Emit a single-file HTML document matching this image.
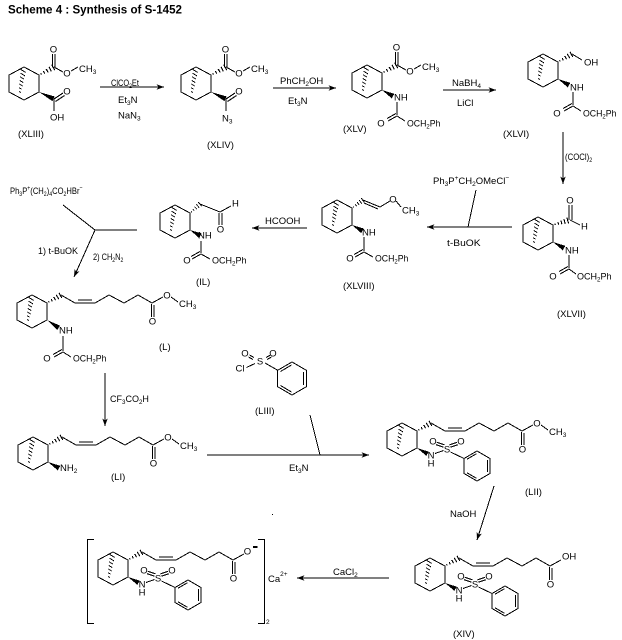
<!DOCTYPE html>
<html><head><meta charset="utf-8"><title>Scheme 4: Synthesis of S-1452</title>
<style>
html,body{margin:0;padding:0;background:#fff;width:622px;height:640px;overflow:hidden}
svg{display:block}
text{font-family:"Liberation Sans",Arial,sans-serif;font-size:9.5px;fill:#000;stroke:none}
.s{font-size:6.5px}
.m{text-anchor:middle}
.k{stroke:#000;stroke-width:1;fill:none;shape-rendering:crispEdges}
</style></head><body>
<svg width="622" height="640" viewBox="0 0 622 640" xmlns="http://www.w3.org/2000/svg">
<defs>
<marker id="ah" markerWidth="9" markerHeight="7" refX="7.5" refY="3" orient="auto" markerUnits="userSpaceOnUse"><path d="M0,0.3 L7.5,3 L0,5.7 L2,3 Z" fill="#000" stroke="none"/></marker>
<g id="core" shape-rendering="crispEdges">
<polyline points="0,0 -15,8 -15,25 0,33 15,25 15,8 0,0" fill="none" stroke="#000"/>
<path d="M-3.2,2.5 L1.8,5.5 M-3.6,6.1 L1,8.9 M-3.9,9.8 L0.1,12.2 M-4.3,13.4 L-0.7,15.6 M-4.5,17.1 L-1.5,18.9 M-4.8,20.8 L-2.4,22.2 M-5.1,24.5 L-3.3,25.5" stroke="#000" stroke-width="0.9" fill="none"/>
</g>
<path id="hb" d="M2,-0.7 V0.7 M5,-1.2 V1.2 M8,-1.7 V1.7 M11,-2.2 V2.2 M14,-2.7 V2.7" stroke="#000" stroke-width="1" fill="none"/>
<polygon id="wb" points="0,0 14,-2.6 14,2.6" fill="#000" stroke="none"/>
<g id="chain" fill="none" stroke="#000" shape-rendering="crispEdges">
<use href="#hb" transform="translate(15,8) rotate(-30) scale(1.1)"/>
<polyline points="29,0 43,8 63,8 77,0 92,8 106,0 120,8 131,2"/>
<path d="M46,5 H60 M119.5,9 V22 M122,10 V22"/>
</g>
<g id="sulf" fill="none" stroke="#000" shape-rendering="crispEdges">
<polygon points="15,25 26.65,28.65 24.35,32.85" fill="#000" stroke="none"/>
<path d="M33,30.5 L41.5,27.5 M42.4,21.8 L34.9,19.3 M41.6,24.2 L34.1,21.7 M47.6,21.8 L55.1,19.3 M48.4,24.2 L55.9,21.7 M48.5,29 L62,35.5"/>
<polygon points="62,35.5 75,28 88,35.5 88,50.5 75,58 62,50.5"/>
<path d="M65,36.2 L74.5,30.7 M85.5,37 V49 M74.5,55.3 L65,49.8"/>
</g>
</defs>

<!-- Title -->
<text x="8" y="13.3" font-weight="bold" style="font-size:11.5px" textLength="174" lengthAdjust="spacingAndGlyphs">Scheme 4 : Synthesis of S-1452</text>

<!-- XLIII -->
<g transform="translate(24,67)" class="k">
<use href="#core"/>
<use href="#hb" transform="translate(15,8) rotate(-28) scale(1.15)"/>
<path d="M28.5,0 V-13 M31,0 V-13 M30,0 L39,5 M47,4 L54,0"/>
<use href="#wb" transform="translate(15,25) rotate(25) scale(1.15,1)"/>
<path d="M30,32 L39,26 M31.5,34.5 L40.5,28.5 M30,32 V44"/>
<text x="29.5" y="-14.5" class="m">O</text>
<text x="43" y="9.5" class="m">O</text>
<text x="55" y="5">CH<tspan class="s" dy="2">3</tspan></text>
<text x="43" y="27.5" class="m">O</text>
<text x="26" y="53.5">OH</text>
</g>
<text x="18" y="137">(XLIII)</text>

<!-- Arrow 1 -->
<line class="k" x1="100" y1="87" x2="164" y2="87" marker-end="url(#ah)"/>
<text transform="translate(111,86) scale(0.78,1)">ClCO<tspan class="s" dy="2">2</tspan><tspan dy="-2">Et</tspan></text>
<text x="118" y="103">Et<tspan class="s" dy="2">3</tspan><tspan dy="-2">N</tspan></text>
<text x="118" y="118.5">NaN<tspan class="s" dy="2">3</tspan></text>

<!-- XLIV -->
<g transform="translate(196,67)" class="k">
<use href="#core"/>
<use href="#hb" transform="translate(15,8) rotate(-28) scale(1.15)"/>
<path d="M28.5,0 V-13 M31,0 V-13 M30,0 L39,5 M47,4 L54,0"/>
<use href="#wb" transform="translate(15,25) rotate(25) scale(1.15,1)"/>
<path d="M30,32 L39,26 M31.5,34.5 L40.5,28.5 M30,32 V44"/>
<text x="29.5" y="-14.5" class="m">O</text>
<text x="43" y="9.5" class="m">O</text>
<text x="55" y="5">CH<tspan class="s" dy="2">3</tspan></text>
<text x="43" y="27.5" class="m">O</text>
<text x="26" y="54.5">N<tspan class="s" dy="2">3</tspan></text>
</g>
<text x="207" y="148">(XLIV)</text>

<!-- Arrow 2 -->
<line class="k" x1="273" y1="88" x2="336" y2="88" marker-end="url(#ah)"/>
<text x="280" y="84">PhCH<tspan class="s" dy="2">2</tspan><tspan dy="-2">OH</tspan></text>
<text x="288" y="104">Et<tspan class="s" dy="2">3</tspan><tspan dy="-2">N</tspan></text>

<!-- XLV -->
<g transform="translate(367,65)" class="k">
<use href="#core"/>
<use href="#hb" transform="translate(15,8) rotate(-28) scale(1.15)"/>
<path d="M28.5,0 V-13 M31,0 V-13 M30,0 L39,5 M47,4 L54,0"/>
<use href="#wb" transform="translate(15,25) rotate(29) scale(0.9,1)"/>
<path d="M30,37 V50 M30,51 L21,56 M29,48.5 L20,53.5 M30,51 L38,56"/>
<text x="29.5" y="-14.5" class="m">O</text>
<text x="43" y="9.5" class="m">O</text>
<text x="55" y="5">CH<tspan class="s" dy="2">3</tspan></text>
<text x="27" y="35.5">NH</text>
<text x="14" y="61.5" class="m">O</text>
<text transform="translate(40,61.5) scale(0.92,1)">OCH<tspan class="s" dy="2">2</tspan><tspan dy="-2">Ph</tspan></text>
</g>
<text x="343" y="132">(XLV)</text>

<!-- Arrow 3 -->
<line class="k" x1="443" y1="90" x2="496" y2="90" marker-end="url(#ah)"/>
<text x="452" y="86">NaBH<tspan class="s" dy="2">4</tspan></text>
<text x="457" y="106">LiCl</text>

<!-- XLVI -->
<g transform="translate(543,54)" class="k">
<use href="#core"/>
<use href="#hb" transform="translate(15,8) rotate(-30) scale(1.1)"/>
<path d="M29,0 L39,6"/>
<text x="41" y="11.5">OH</text>
<use href="#wb" transform="translate(15,25) rotate(29) scale(0.9,1)"/>
<text x="27" y="36.5">NH</text>
<path d="M30,38 V51 M30,52 L21,57 M29,49.5 L20,54.5 M30,52 L38,57"/>
<text x="14" y="62.5" class="m">O</text>
<text transform="translate(40,62.5) scale(0.92,1)">OCH<tspan class="s" dy="2">2</tspan><tspan dy="-2">Ph</tspan></text>
</g>
<text x="503" y="137">(XLVI)</text>

<!-- Arrow 4 (vertical) -->
<line class="k" x1="563" y1="132" x2="563" y2="184" marker-end="url(#ah)"/>
<text transform="translate(565,160) scale(0.82,1)">(COCl)<tspan class="s" dy="2">2</tspan></text>

<!-- XLVII -->
<g transform="translate(538,217)" class="k">
<use href="#core"/>
<use href="#hb" transform="translate(15,8) rotate(-17) scale(1.1)"/>
<path d="M31,3 V-12 M34,3 V-12 M32,3 L42,8"/>
<text x="32" y="-13.5" class="m">O</text>
<text x="43" y="12.5">H</text>
<use href="#wb" transform="translate(15,25) rotate(29) scale(0.9,1)"/>
<text x="27" y="36.5">NH</text>
<path d="M31,38 V51 M31,52 L22,57 M30,49.5 L21,54.5 M31,52 L38,57"/>
<text x="15" y="62.5" class="m">O</text>
<text transform="translate(39,62.5) scale(0.95,1)">OCH<tspan class="s" dy="2">2</tspan><tspan dy="-2">Ph</tspan></text>
</g>
<text x="557" y="317">(XLVII)</text>

<!-- Arrow 5 -->
<line class="k" x1="512" y1="227" x2="427" y2="227" marker-end="url(#ah)"/>
<line class="k" x1="468" y1="227" x2="476" y2="190"/>
<text x="433" y="184">Ph<tspan class="s" dy="2">3</tspan><tspan dy="-2">P</tspan><tspan class="s" dy="-4">+</tspan><tspan dy="4">CH</tspan><tspan class="s" dy="2">2</tspan><tspan dy="-2">OMeCl</tspan><tspan class="s" dy="-4">−</tspan></text>
<text transform="translate(447,246) scale(1.08,1)">t-BuOK</text>

<!-- XLVIII -->
<g transform="translate(337,200)" class="k">
<use href="#core"/>
<use href="#hb" transform="translate(15,8) rotate(-36) scale(0.95)"/>
<path d="M26,0 L43,7 M27,3 L41,9 M43,7 L53,1 M59,1 L64,7"/>
<text x="56" y="2.5" class="m">O</text>
<text x="65" y="13.5">CH<tspan class="s" dy="2">3</tspan></text>
<use href="#wb" transform="translate(15,25) rotate(29) scale(0.85,1)"/>
<text x="25" y="35.5">NH</text>
<path d="M27,37 V51 M27,52 L18,57 M26,49.5 L17,54.5 M27,52 L36,57"/>
<text x="13" y="61.5" class="m">O</text>
<text transform="translate(38,61.5) scale(0.92,1)">OCH<tspan class="s" dy="2">2</tspan><tspan dy="-2">Ph</tspan></text>
</g>
<text x="343" y="289">(XLVIII)</text>

<!-- Arrow 6 HCOOH -->
<line class="k" x1="307" y1="228" x2="252" y2="228" marker-end="url(#ah)"/>
<text x="265" y="224">HCOOH</text>

<!-- IL -->
<g transform="translate(175,205)" class="k">
<use href="#core"/>
<use href="#hb" transform="translate(15,8) rotate(-42) scale(0.95)"/>
<path d="M25,-1 L45,7 M44,8 V20 M47,8 V20 M45,7 L56,1"/>
<text x="45.5" y="27.5" class="m">O</text>
<text x="57" y="1.5">H</text>
<use href="#wb" transform="translate(15,25) rotate(29) scale(0.85,1)"/>
<text x="23" y="33.5">NH</text>
<path d="M26,36 V48 M26,49 L17,54 M25,46.5 L16,51.5 M26,49 L35,54"/>
<text x="12" y="58.5" class="m">O</text>
<text transform="translate(37,58.5) scale(0.95,1)">OCH<tspan class="s" dy="2">2</tspan><tspan dy="-2">Ph</tspan></text>
</g>
<text x="196" y="285">(IL)</text>

<!-- Wittig branch arrow -->
<polyline class="k" points="63,205 95,230 137,230"/>
<line class="k" x1="95" y1="230" x2="74" y2="277" marker-end="url(#ah)"/>
<text transform="translate(10,194) scale(0.8,1)">Ph<tspan class="s" dy="2">3</tspan><tspan dy="-2">P</tspan><tspan class="s" dy="-4">+</tspan><tspan dy="4">(CH</tspan><tspan class="s" dy="2">2</tspan><tspan dy="-2">)</tspan><tspan class="s" dy="2">4</tspan><tspan dy="-2">CO</tspan><tspan class="s" dy="2">2</tspan><tspan dy="-2">HBr</tspan><tspan class="s" dy="-4">−</tspan></text>
<text transform="translate(38,254) scale(0.95,1)">1) t-BuOK</text>
<text transform="translate(93,260) scale(0.78,1)">2) CH<tspan class="s" dy="2">2</tspan><tspan dy="-2">N</tspan><tspan class="s" dy="2">2</tspan></text>

<!-- L -->
<g transform="translate(32,295)" class="k">
<use href="#core"/>
<use href="#chain"/>
<path d="M139,2 L146,7"/>
<text x="135" y="3.5" class="m">O</text>
<text x="120.5" y="29.5" class="m">O</text>
<text x="147" y="12">CH<tspan class="s" dy="2">3</tspan></text>
<use href="#wb" transform="translate(15,25) rotate(34)"/>
<text x="27" y="38.5">NH</text>
<path d="M31,41 V56 M31,57 L22,62 M30,54.5 L21,59.5 M31,57 L39,62"/>
<text x="15" y="66.5" class="m">O</text>
<text transform="translate(41,66.5) scale(0.92,1)">OCH<tspan class="s" dy="2">2</tspan><tspan dy="-2">Ph</tspan></text>
</g>
<text x="159" y="350">(L)</text>

<!-- Arrow 7 -->
<line class="k" x1="105" y1="373" x2="105" y2="426" marker-end="url(#ah)"/>
<text transform="translate(110,402) scale(0.95,1)">CF<tspan class="s" dy="2">3</tspan><tspan dy="-2">CO</tspan><tspan class="s" dy="2">2</tspan><tspan dy="-2">H</tspan></text>

<!-- LI -->
<g transform="translate(33,437)" class="k">
<use href="#core"/>
<use href="#chain"/>
<path d="M139,2 L146,7"/>
<text x="135" y="3.5" class="m">O</text>
<text x="120.5" y="29.5" class="m">O</text>
<text x="147" y="12">CH<tspan class="s" dy="2">3</tspan></text>
<use href="#wb" transform="translate(15,25) rotate(29) scale(0.9,1)"/>
<text x="27" y="34">NH<tspan class="s" dy="2">2</tspan></text>
</g>
<text x="111" y="480">(LI)</text>

<!-- LIII -->
<g class="k">
<path d="M255,363.5 L246.5,367.5 M254,357.5 L249.5,355 M253,359.5 L248.5,357 M266,357.5 L270.5,355 M267,359.5 L271.5,357 M265,363 L277.7,370.25"/>
<polygon points="277.7,370.25 292,362 306.3,370.25 306.3,386.75 292,395 277.7,386.75"/>
<path d="M280.5,371.5 L291.5,365 M303.5,372 V385 M291.5,392 L280.5,385.5"/>
</g>
<text x="245" y="356.5" class="m">O</text>
<text x="273" y="356.5" class="m">O</text>
<text x="260" y="364.5" class="m">S</text>
<text x="240" y="371.5" class="m">Cl</text>
<text x="255" y="414">(LIII)</text>

<!-- Long arrow Et3N -->
<line class="k" x1="207" y1="455" x2="369" y2="455" marker-end="url(#ah)"/>
<line class="k" x1="320" y1="455" x2="310" y2="415"/>
<text x="289" y="471">Et<tspan class="s" dy="2">3</tspan><tspan dy="-2">N</tspan></text>
<rect x="272" y="514" width="1" height="1" fill="#000"/>

<!-- LII -->
<g transform="translate(402,423)" class="k">
<use href="#core"/>
<use href="#chain"/>
<path d="M139,2 L146,7"/>
<text x="135" y="3.5" class="m">O</text>
<text x="120.5" y="29.5" class="m">O</text>
<text x="147" y="12">CH<tspan class="s" dy="2">3</tspan></text>
<use href="#sulf"/>
<text x="29" y="35.5" class="m">N</text>
<text x="29" y="43.5" class="m">H</text>
<text x="45" y="29.5" class="m">S</text>
<text x="31" y="21.5" class="m">O</text>
<text x="59" y="21.5" class="m">O</text>
</g>
<text x="525" y="495">(LII)</text>

<!-- NaOH arrow -->
<line class="k" x1="494" y1="486" x2="477" y2="540" marker-end="url(#ah)"/>
<text x="450" y="517">NaOH</text>

<!-- XIV -->
<g transform="translate(430,558)" class="k">
<use href="#core"/>
<use href="#chain"/>
<text x="132" y="1.5">OH</text>
<text x="120.5" y="29.5" class="m">O</text>
<use href="#sulf"/>
<text x="29" y="35.5" class="m">N</text>
<text x="29" y="43.5" class="m">H</text>
<text x="45" y="29.5" class="m">S</text>
<text x="31" y="21.5" class="m">O</text>
<text x="59" y="21.5" class="m">O</text>
</g>
<text x="453" y="637">(XIV)</text>

<!-- CaCl2 arrow -->
<line class="k" x1="389" y1="578" x2="297" y2="578" marker-end="url(#ah)"/>
<text x="333" y="575">CaCl<tspan class="s" dy="2">2</tspan></text>

<!-- Calcium salt -->
<g transform="translate(113,552)" class="k">
<use href="#core"/>
<use href="#chain"/>
<text x="134.5" y="2.5" class="m">O</text>
<rect x="140" y="-6" width="4.5" height="2" fill="#000" stroke="none"/>
<text x="120.5" y="29.5" class="m">O</text>
<use href="#sulf"/>
<text x="29" y="35.5" class="m">N</text>
<text x="29" y="43.5" class="m">H</text>
<text x="45" y="29.5" class="m">S</text>
<text x="31" y="21.5" class="m">O</text>
<text x="59" y="21.5" class="m">O</text>
</g>
<polyline class="k" points="94,539.5 87.5,539.5 87.5,623.5 94,623.5"/>
<polyline class="k" points="258,539.5 264.5,539.5 264.5,623.5 258,623.5"/>
<text x="266" y="624" class="s">2</text>
<text x="268" y="582">Ca<tspan class="s" dy="-6">2+</tspan></text>

</svg>
</body></html>
